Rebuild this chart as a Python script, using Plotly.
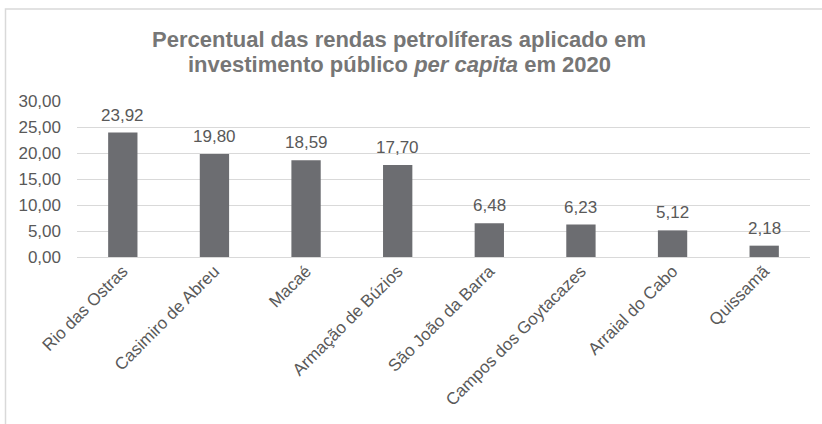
import plotly.graph_objects as go

categories = ["Rio das Ostras", "Casimiro de Abreu", "Macaé", "Armação de Búzios",
              "São João da Barra", "Campos dos Goytacazes", "Arraial do Cabo", "Quissamã"]
values = [23.92, 19.80, 18.59, 17.70, 6.48, 6.23, 5.12, 2.18]
y_ticks = [0, 5, 10, 15, 20, 25, 30]
title_lines = ["<b>Percentual das rendas petrolíferas aplicado em</b>",
               "<b>investimento público <i>per capita</i> em 2020</b>"]

W, H = 822, 424
L, R, T, B = 77, 12, 101, 167
pw, ph = W - L - R, H - T - B
FONT = "Liberation Sans, Arial, sans-serif"

fig = go.Figure()
fig.add_trace(go.Bar(
    x=categories, y=values,
    marker=dict(color="#6c6d71", line=dict(width=0)),
    hoverinfo="x+y",
))

for c, v in zip(categories, values):
    fig.add_annotation(
        x=c, y=v, text=f"{v:.2f}".replace(".", ","),
        showarrow=False, yanchor="bottom", yshift=6,
        font=dict(family=FONT, size=17, color="#595959"),
    )

# two-line title
for line, yc in zip(title_lines, [39, 65]):
    fig.add_annotation(
        text=line, xref="paper", yref="paper",
        x=(399 - L) / pw, y=(T + ph - yc) / ph,
        xanchor="center", yanchor="middle", showarrow=False,
        font=dict(family=FONT, size=22, color="#767676"),
    )

# outer chart border
fig.add_shape(type="rect", xref="paper", yref="paper",
              x0=(5.5 - L) / pw, x1=(W + 20 - L) / pw,
              y0=-(H + 20 - T - ph) / ph, y1=(T + ph - 9) / ph,
              line=dict(color="#d9d9d9", width=1.5), layer="below")

fig.update_layout(
    width=W, height=H,
    margin=dict(l=L, r=R, t=T, b=B, autoexpand=False),
    paper_bgcolor="white", plot_bgcolor="white",
    separators=",.",
    bargap=0.68,
    showlegend=False,
    font=dict(family=FONT, color="#595959"),
    xaxis=dict(
        tickangle=-45, showgrid=False, showline=False, ticks="",
        automargin=False,
        tickfont=dict(size=17, color="#595959"),
    ),
    yaxis=dict(
        range=[0, 30], tickvals=y_ticks, tickformat=".2f",
        showgrid=True, gridcolor="#d9d9d9", gridwidth=1,
        zeroline=True, zerolinecolor="#d9d9d9", zerolinewidth=1,
        showline=False, ticks="", ticklabelstandoff=15, automargin=False,
        tickfont=dict(size=17, color="#595959"),
    ),
)

fig.write_html("out.html", config={"displayModeBar": False},
               post_script="document.body.style.margin='0';")
